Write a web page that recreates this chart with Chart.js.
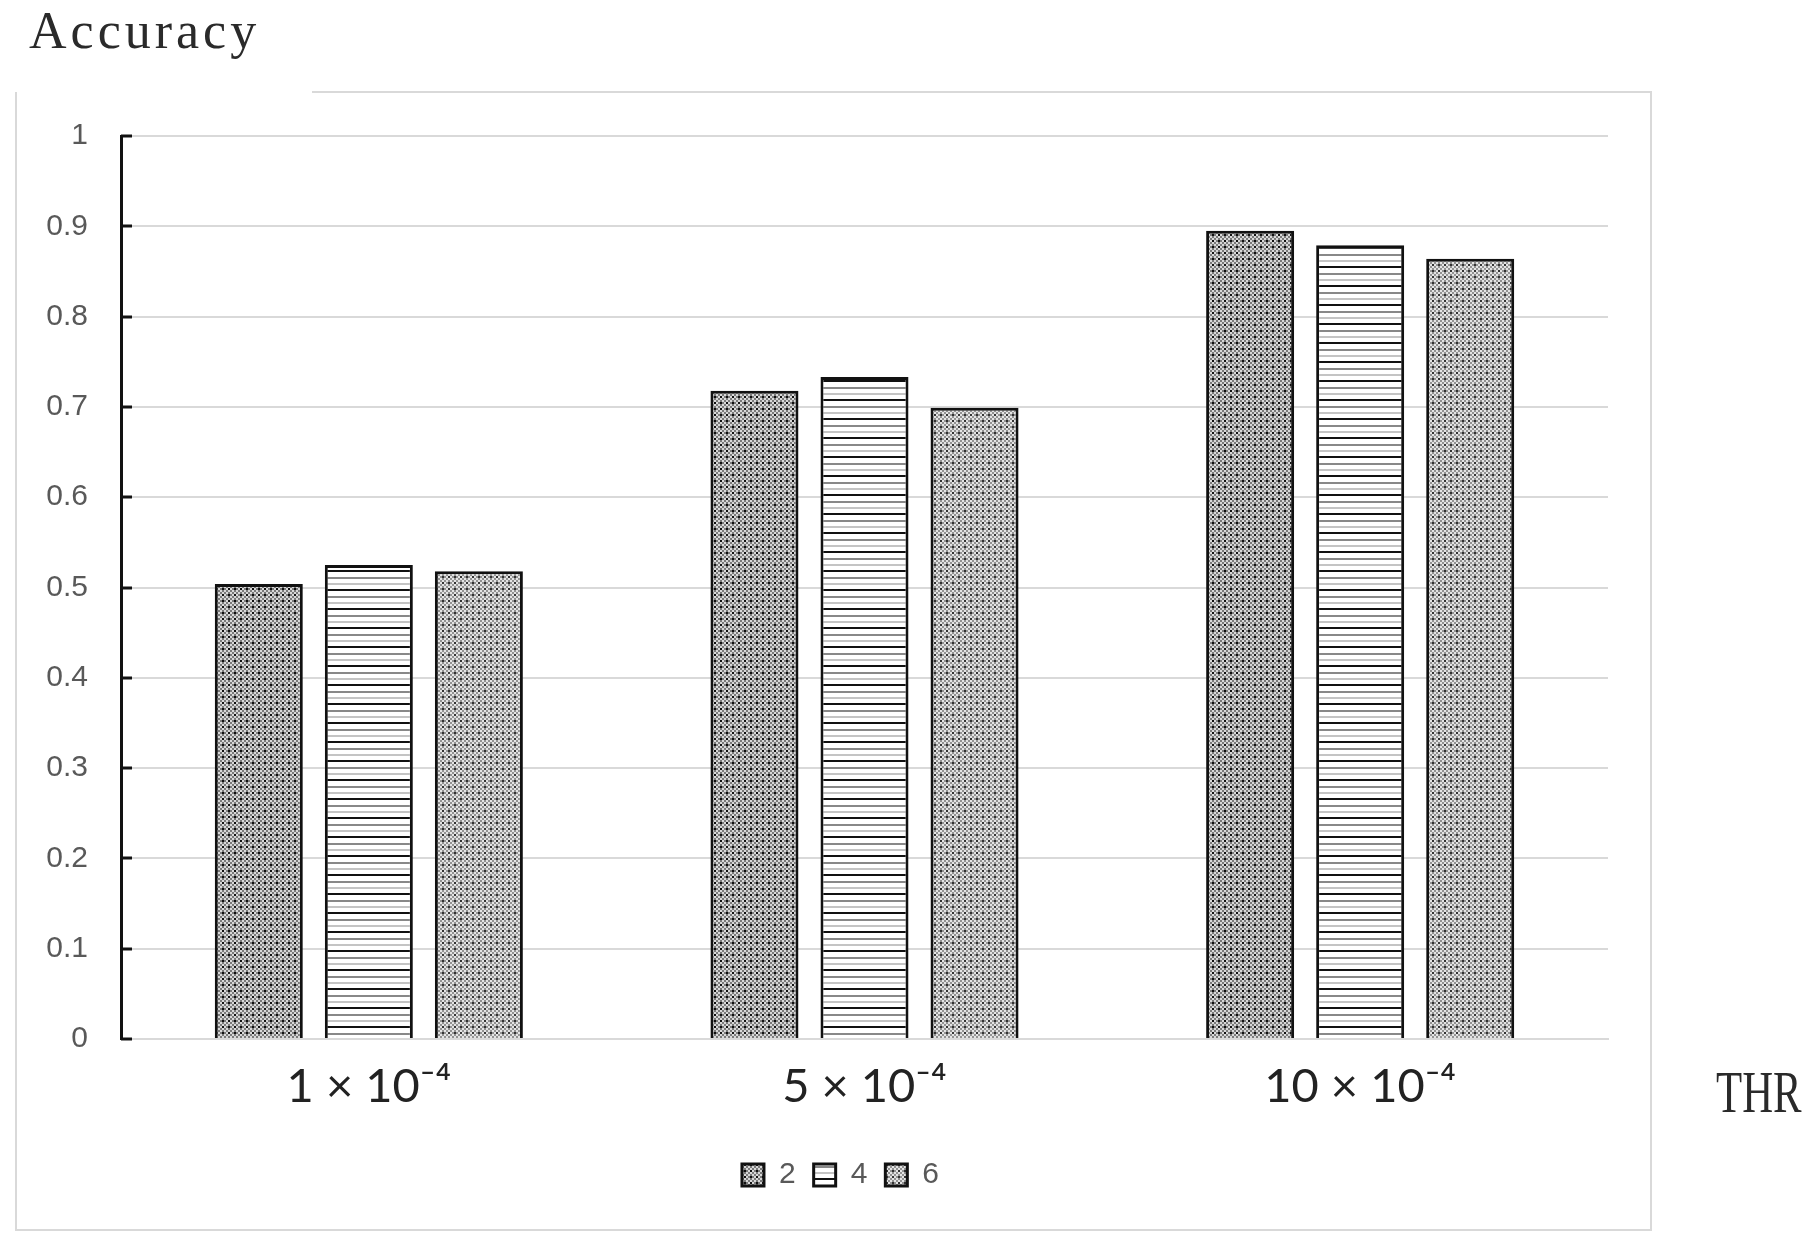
<!DOCTYPE html>
<html>
<head>
<meta charset="utf-8">
<script src="https://cdn.jsdelivr.net/npm/chart.js@4.4.1/dist/chart.umd.min.js"></script>
<style>
  html, body { margin: 0; padding: 0; background: #fff; }
  canvas { display: block; }
</style>
</head>
<body>
<canvas id="acc" width="1810" height="1241"></canvas>
<script>
// values
const thresholds = ['1 × 10⁻⁴', '5 × 10⁻⁴', '10 × 10⁻⁴'];
const seriesNames = ['2', '4', '6'];
const acc2 = [0.504, 0.718, 0.895];
const acc4 = [0.525, 0.733, 0.879];
const acc6 = [0.518, 0.699, 0.864];

const canvas = document.getElementById('acc');
const ctx = canvas.getContext('2d');

// small tiles used as bar fills
function tile(w, h, paint) {
    const c = document.createElement('canvas');
    c.width = w; c.height = h;
    paint(c.getContext('2d'), w, h);
    return ctx.createPattern(c, 'repeat');
}

// checker of 2px cells with sparse dark dots on a diagonal lattice
function checker(dark, light, dot, dir) {
    return tile(12, 12, (g) => {
        for (let j = 0; j < 6; j++) for (let i = 0; i < 6; i++) {
            let col = (i + j) % 2 === 0 ? dark : light;
            const k = dir > 0 ? i : 5 - i;
            if ((k === j && j % 3 === 0) || (k === (j + 3) % 6 && j % 3 === 0)) col = dot;
            g.fillStyle = col;
            g.fillRect(i * 2, j * 2, 2, 2);
        }
    });
}

const crossDark = checker('#7a7a7a', '#d8d8d8', '#111', 1);
const crossLight = checker('#929292', '#e4e4e4', '#333', -1);
const stripes = tile(4, 19, (g, w, h) => {
    g.fillStyle = '#fff'; g.fillRect(0, 0, w, h);
    g.fillStyle = '#111'; g.fillRect(0, 0, w, 2);
    g.fillStyle = '#888'; g.fillRect(0, 7, w, 2);
    g.fillStyle = '#c4c4c4'; g.fillRect(0, 13, w, 2);
});

// frame, corner captions and inner tick marks
const decor = {
    id: 'decor',
    beforeDraw(chart) {
        const c = chart.ctx;
        c.save();
        c.fillStyle = '#fff';
        c.fillRect(0, 0, chart.width, chart.height);
        c.strokeStyle = '#d9d9d9';
        c.lineWidth = 2;
        c.beginPath();
        c.moveTo(312, 92);
        c.lineTo(1651, 92);
        c.lineTo(1651, 1230);
        c.lineTo(16, 1230);
        c.lineTo(16, 92);
        c.stroke();
        c.restore();
    },
    afterDatasetsDraw(chart) {
        const c = chart.ctx, y = chart.scales.y, left = chart.chartArea.left;
        c.save();
        c.strokeStyle = '#111';
        c.lineWidth = 3;
        y.ticks.forEach(t => {
            const py = Math.round(y.getPixelForValue(t.value));
            c.beginPath();
            c.moveTo(left, py);
            c.lineTo(left + 11, py);
            c.stroke();
        });
        c.restore();
    },
    afterDraw(chart) {
        const c = chart.ctx;
        c.save();
        c.fillStyle = '#2a2a2a';
        c.textBaseline = 'alphabetic';
        c.font = '52px "Liberation Serif"';
        c.letterSpacing = '4px';
        c.fillText('Accuracy', 29, 48);
        c.letterSpacing = '0px';
        c.translate(1716, 1112);
        c.scale(0.93, 1.27);
        c.font = '46px "Liberation Serif"';
        c.fillText('THR', 0, 0);
        c.restore();
    }
};

new Chart(canvas, {
    type: 'bar',
    data: {
        labels: thresholds,
        datasets: [
            { label: seriesNames[0], data: acc2, backgroundColor: crossDark, borderColor: '#111', borderWidth: 3 },
            { label: seriesNames[1], data: acc4, backgroundColor: stripes, borderColor: '#111', borderWidth: 3 },
            { label: seriesNames[2], data: acc6, backgroundColor: crossLight, borderColor: '#111', borderWidth: 3 }
        ]
    },
    options: {
        responsive: false,
        devicePixelRatio: 1,
        animation: false,
        layout: { padding: { top: 136, left: 29, right: 158, bottom: 41 } },
        datasets: { bar: { categoryPercentage: 0.666, barPercentage: 0.8 } },
        plugins: {
            tooltip: { enabled: false },
            legend: {
                position: 'bottom',
                labels: {
                    boxWidth: 22,
                    boxHeight: 22,
                    padding: 18,
                    color: '#595959',
                    font: { family: 'Liberation Sans', size: 30 }
                }
            }
        },
        scales: {
            x: {
                grid: { display: false, drawTicks: false },
                border: { color: '#d9d9d9', width: 2 },
                ticks: {
                    padding: 20,
                    color: '#222',
                    font: { family: 'Lato', size: 47 }
                },
                afterFit(s) { s.height = 103; }
            },
            y: {
                min: 0,
                max: 1,
                ticks: {
                    stepSize: 0.1,
                    padding: 33,
                    color: '#595959',
                    font: { family: 'Liberation Sans', size: 30 },
                    callback: v => String(+v.toFixed(1))
                },
                grid: { color: '#d9d9d9', lineWidth: 2, drawTicks: false },
                border: { color: '#111', width: 3 },
                afterFit(s) { s.width = 92; }
            },
            // empty spacer on the right so the plot ends where the original does
            spacer: {
                position: 'right',
                grid: { display: false, drawTicks: false },
                border: { display: false },
                ticks: { display: false },
                afterFit(s) { s.width = 44; }
            }
        }
    },
    plugins: [decor]
});
</script>
</body>
</html>
